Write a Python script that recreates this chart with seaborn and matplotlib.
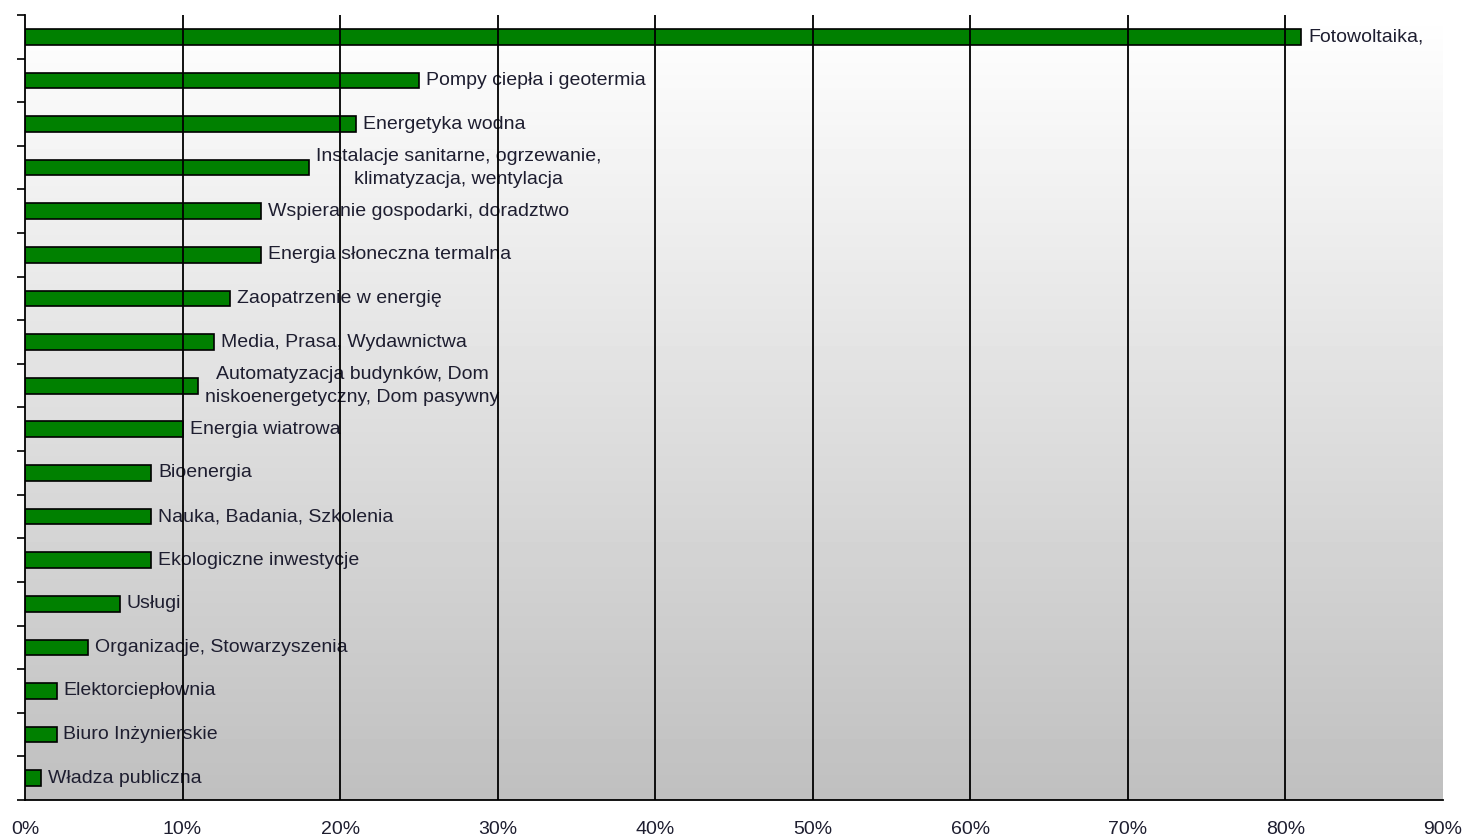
import numpy as np
import pandas as pd
import seaborn as sns
import matplotlib.pyplot as plt

# dane
kategorie = [
    'Fotowoltaika,',
    'Pompy ciepła i geotermia',
    'Energetyka wodna',
    'Instalacje sanitarne, ogrzewanie,\nklimatyzacja, wentylacja',
    'Wspieranie gospodarki, doradztwo',
    'Energia słoneczna termalna',
    'Zaopatrzenie w energię',
    'Media, Prasa, Wydawnictwa',
    'Automatyzacja budynków, Dom\nniskoenergetyczny, Dom pasywny',
    'Energia wiatrowa',
    'Bioenergia',
    'Nauka, Badania, Szkolenia',
    'Ekologiczne inwestycje',
    'Usługi',
    'Organizacje, Stowarzyszenia',
    'Elektorciepłownia',
    'Biuro Inżynierskie',
    'Władza publiczna',
]
procent = [81, 25, 21, 18, 15, 15, 13, 12, 11, 10, 8, 8, 8, 6, 4, 2, 2, 1]
x_ticki = [0, 10, 20, 30, 40, 50, 60, 70, 80, 90]

df = pd.DataFrame({'kategoria': kategorie, 'procent': procent})

sns.set_style('white')
plt.rcParams['font.family'] = ['Liberation Sans', 'DejaVu Sans']

fig = plt.figure(figsize=(14.66, 8.38), dpi=100)
ax = fig.add_axes([25 / 1466, 1 - 800 / 838, (1443 - 25) / 1466, (800 - 15) / 838])

# tlo z gradientem (bialy -> szary)
grad = np.linspace(1.0, 0.75, 256).reshape(-1, 1)
ax.imshow(grad, extent=[0, 1, 0, 1], transform=ax.transAxes, aspect='auto',
          cmap='gray', vmin=0, vmax=1, zorder=0)

sns.barplot(data=df, x='procent', y='kategoria', orient='h', color='#008000',
            edgecolor='black', linewidth=1.2, width=0.36, saturation=1, ax=ax, zorder=2)

for i, (k, v) in enumerate(zip(kategorie, procent)):
    ax.annotate(k, xy=(v, i), xytext=(5, 0), textcoords='offset points',
                ha='left', va='center', multialignment='center', linespacing=1.45,
                fontsize=14, color='#1e1e30', zorder=3)

ax.set_xlim(0, 90)
ax.set_ylim(len(kategorie) - 0.5, -0.5)
ax.set_xticks(x_ticki)
ax.set_xticklabels([f'{t}%' for t in x_ticki], fontsize=14, color='#1e1e30')
ax.set_yticks(np.arange(-0.5, len(kategorie), 1))
ax.set_yticklabels([])
ax.set_xlabel('')
ax.set_ylabel('')

ax.tick_params(axis='x', direction='out', length=6, width=1.2, color='black', pad=9)
ax.tick_params(axis='y', direction='out', length=6, width=1.2, color='black', left=True)

ax.grid(axis='x', color='black', linewidth=1.3)
ax.grid(axis='y', visible=False)
gl = ax.get_xgridlines()
gl[0].set_visible(False)
gl[-1].set_visible(False)
ax.xaxis.set_zorder(5)

for s in ['top', 'right']:
    ax.spines[s].set_visible(False)
for s in ['left', 'bottom']:
    ax.spines[s].set_color('black')
    ax.spines[s].set_linewidth(1.3)
    ax.spines[s].set_zorder(6)

fig.savefig('out.png', dpi=100)
